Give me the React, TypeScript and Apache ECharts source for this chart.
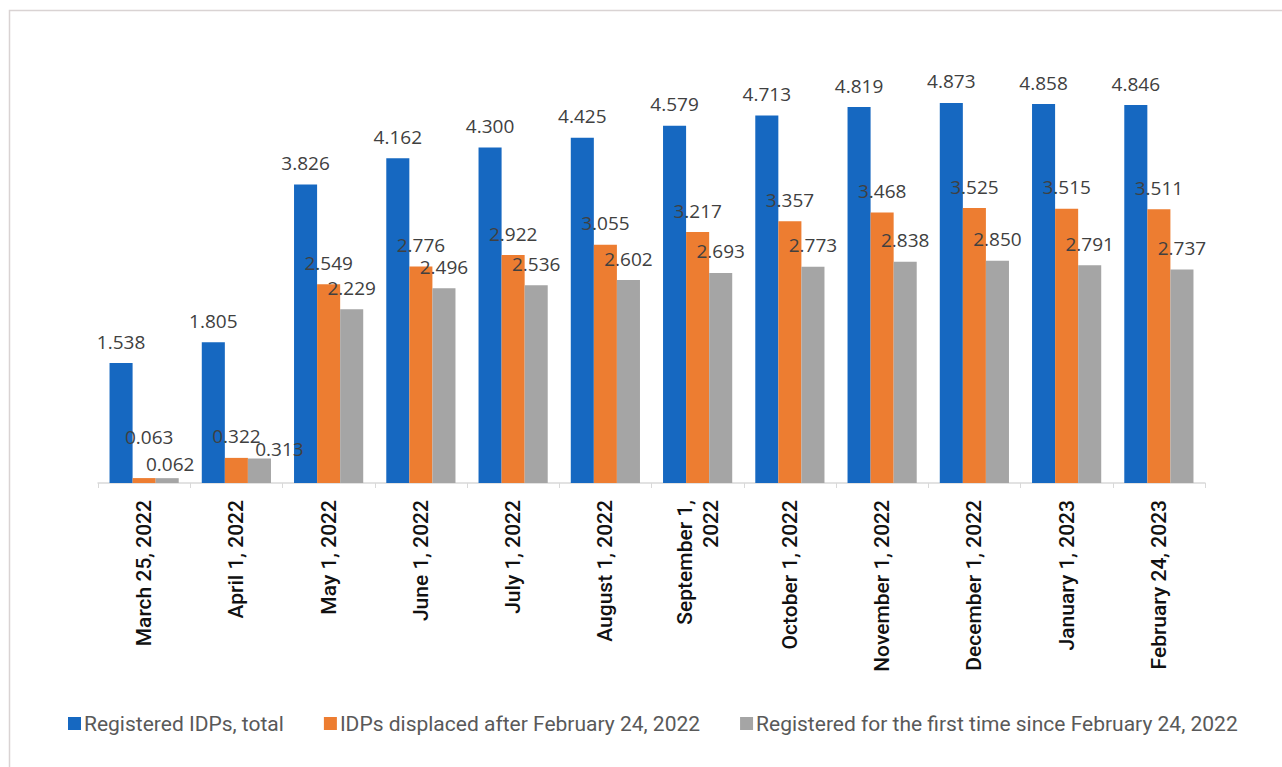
import React, { useEffect, useRef } from "react";
import * as echarts from "echarts";

const categories = [
  "March 25, 2022",
  "April 1, 2022",
  "May 1, 2022",
  "June 1, 2022",
  "July 1, 2022",
  "August 1, 2022",
  "September 1,\n2022",
  "October 1, 2022",
  "November 1, 2022",
  "December 1, 2022",
  "January 1, 2023",
  "February 24, 2023",
];
const registeredTotal = [1.538, 1.805, 3.826, 4.162, 4.3, 4.425, 4.579, 4.713, 4.819, 4.873, 4.858, 4.846];
const displacedAfter = [0.063, 0.322, 2.549, 2.776, 2.922, 3.055, 3.217, 3.357, 3.468, 3.525, 3.515, 3.511];
const firstTimeSince = [0.062, 0.313, 2.229, 2.496, 2.536, 2.602, 2.693, 2.773, 2.838, 2.85, 2.791, 2.737];
const seriesNames = [
  "Registered IDPs, total",
  "IDPs displaced after February 24, 2022",
  "Registered for the first time since February 24, 2022",
];
const colors = ["#1668c1", "#ed7d31", "#a5a5a5"];

export default function App() {
  const ref = useRef<HTMLDivElement>(null);
  useEffect(() => {
    if (!ref.current) return;
    const chart = echarts.init(ref.current, undefined, { renderer: "svg" });
    const labelStyle = {
      show: true,
      position: "top" as const,
      distance: 12,
      fontFamily: "Open Sans",
      fontSize: 19,
      color: "#404040",
      formatter: (p: any) => Number(p.value).toFixed(3),
    };
    const labelOffsets: Record<string, [number, number]> = {
      "1-0": [5, -20],
      "2-0": [3, 7],
      "2-1": [20, 12],
    };
    const build = (arr: number[], si: number) =>
      arr.map((v, i) => {
        const off = labelOffsets[`${si}-${i}`];
        return off ? { value: v, label: { offset: off } } : v;
      });
    const allData = [registeredTotal, displacedAfter, firstTimeSince];
    chart.setOption({
      animation: false,
      backgroundColor: "#ffffff",
      graphic: [
        {
          type: "rect",
          shape: { x: 9.5, y: 10.5, width: 1400, height: 900 },
          style: { fill: "none", stroke: "#d9d3d3", lineWidth: 1.5 },
          silent: true,
        },
      ],
      grid: { left: 98, right: 77, top: 93, bottom: 284 },
      legend: {
        left: 63,
        top: 708,
        itemWidth: 13,
        itemHeight: 13,
        itemGap: 40,
        icon: "rect",
        textStyle: { fontFamily: "Roboto", fontSize: 21, color: "#595959", padding: [0, 0, 0, -2] },
        data: seriesNames,
      },
      xAxis: {
        type: "category",
        data: categories.map((c) =>
          c.includes("\n") ? { value: c, textStyle: { padding: [22, 0, 0, 0] } } : c
        ),
        axisLine: { lineStyle: { color: "#d9d9d9", width: 1.5 } },
        axisTick: { show: true, length: 5, lineStyle: { color: "#d9d9d9" } },
        axisLabel: {
          rotate: 90,
          interval: 0,
          margin: 17,
          fontFamily: "Roboto",
          fontWeight: 500,
          fontSize: 21,
          lineHeight: 26,
          color: "#111111",
        },
      },
      yAxis: {
        type: "value",
        min: 0,
        max: 5,
        show: false,
        splitLine: { show: false },
      },
      series: allData.map((arr, si) => ({
        name: seriesNames[si],
        type: "bar",
        data: build(arr, si),
        barGap: "0%",
        barCategoryGap: "25%",
        itemStyle: { color: colors[si] },
        label: labelStyle,
      })),
    });
    return () => chart.dispose();
  }, []);
  return (
    <div
      ref={ref}
      style={{ position: "fixed", left: 0, top: 0, width: 1282, height: 767 }}
    />
  );
}
